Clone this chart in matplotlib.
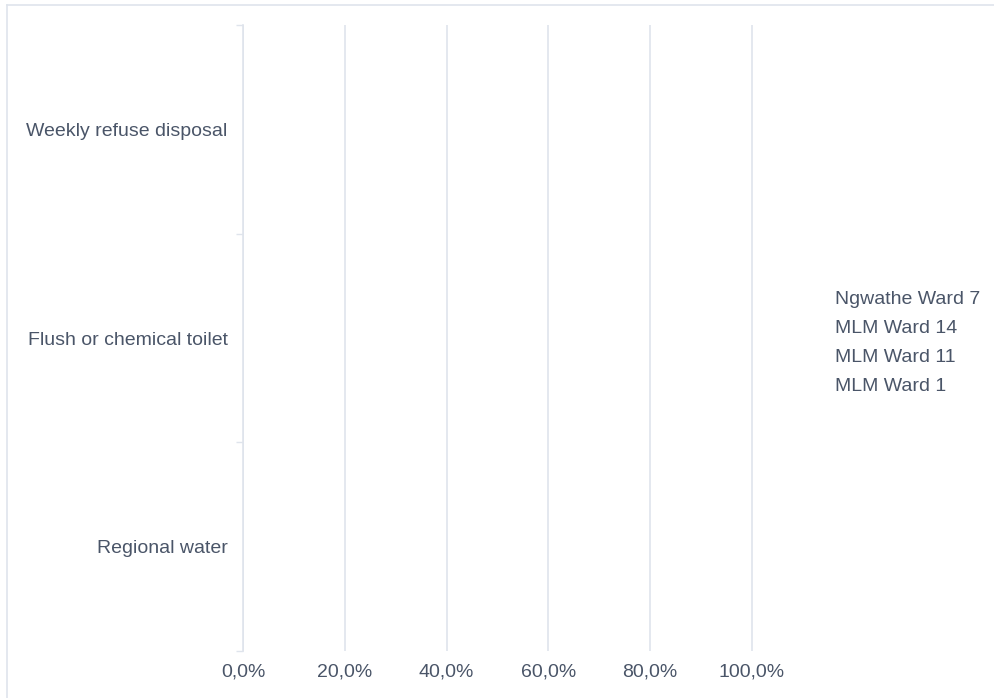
import matplotlib.pyplot as plt
import numpy as np
from matplotlib.lines import Line2D

categories = ['Regional water', 'Flush or chemical toilet', 'Weekly refuse disposal']
series_names = ['MLM Ward 1', 'MLM Ward 11', 'MLM Ward 14', 'Ngwathe Ward 7']
# the source chart shows no visible bars, so every value is zero
mlm_ward_1 = [0.0, 0.0, 0.0]
mlm_ward_11 = [0.0, 0.0, 0.0]
mlm_ward_14 = [0.0, 0.0, 0.0]
ngwathe_ward_7 = [0.0, 0.0, 0.0]
xticks = [0.0, 0.2, 0.4, 0.6, 0.8, 1.0]
xtick_labels = ['0,0%', '20,0%', '40,0%', '60,0%', '80,0%', '100,0%']

plt.rcParams['font.family'] = ['Liberation Sans', 'DejaVu Sans']
text_col = '#4a5568'
grid_col = '#dfe4ec'
fs = 14

fig = plt.figure(figsize=(9.95, 6.98), dpi=100)
ax = fig.add_axes([0.2442, 0.0673, 0.5126, 0.8969])

values = [mlm_ward_1, mlm_ward_11, mlm_ward_14, ngwathe_ward_7]
colors = ['#4472c4', '#ed7d31', '#a5a5a5', '#ffc000']
y = np.arange(len(categories))
h = 0.18
for i, (name, vals) in enumerate(zip(series_names, values)):
    ax.barh(y + (i - 1.5) * h, vals, height=h, color=colors[i], label=name)

ax.set_xlim(0, 1.002)
ax.set_ylim(-0.5, 2.5)
ax.set_xticks(xticks)
ax.set_xticklabels(xtick_labels)
ax.set_yticks(y)
ax.set_yticklabels(categories)
ax.set_yticks([-0.5, 0.5, 1.5, 2.5], minor=True)
ax.tick_params(axis='y', which='major', length=0, pad=11, labelsize=fs, labelcolor=text_col)
ax.tick_params(axis='y', which='minor', length=5, width=1, color=grid_col)
ax.tick_params(axis='x', length=0, pad=9, labelsize=fs, labelcolor=text_col)
ax.xaxis.grid(True, color=grid_col, linewidth=1.2)
ax.set_axisbelow(True)
for s in ['top', 'right', 'bottom']:
    ax.spines[s].set_visible(False)
ax.spines['left'].set_color(grid_col)
ax.spines['left'].set_linewidth(1.2)

handles, labels = ax.get_legend_handles_labels()
leg = ax.legend(handles[::-1], labels[::-1], loc='upper left',
                bbox_to_anchor=(835 / 995, 1 - 290 / 698), bbox_transform=fig.transFigure,
                frameon=False, handlelength=0, handletextpad=0, borderpad=0,
                borderaxespad=0, labelspacing=0.6, fontsize=fs, labelcolor=text_col)

# light frame around the chart area
fig.add_artist(Line2D([7 / 995, 7 / 995], [0, 1 - 5 / 698], transform=fig.transFigure, color=grid_col, lw=1.2))
fig.add_artist(Line2D([7 / 995, 1], [1 - 5 / 698, 1 - 5 / 698], transform=fig.transFigure, color=grid_col, lw=1.2))

fig.savefig('out.png', dpi=100)
